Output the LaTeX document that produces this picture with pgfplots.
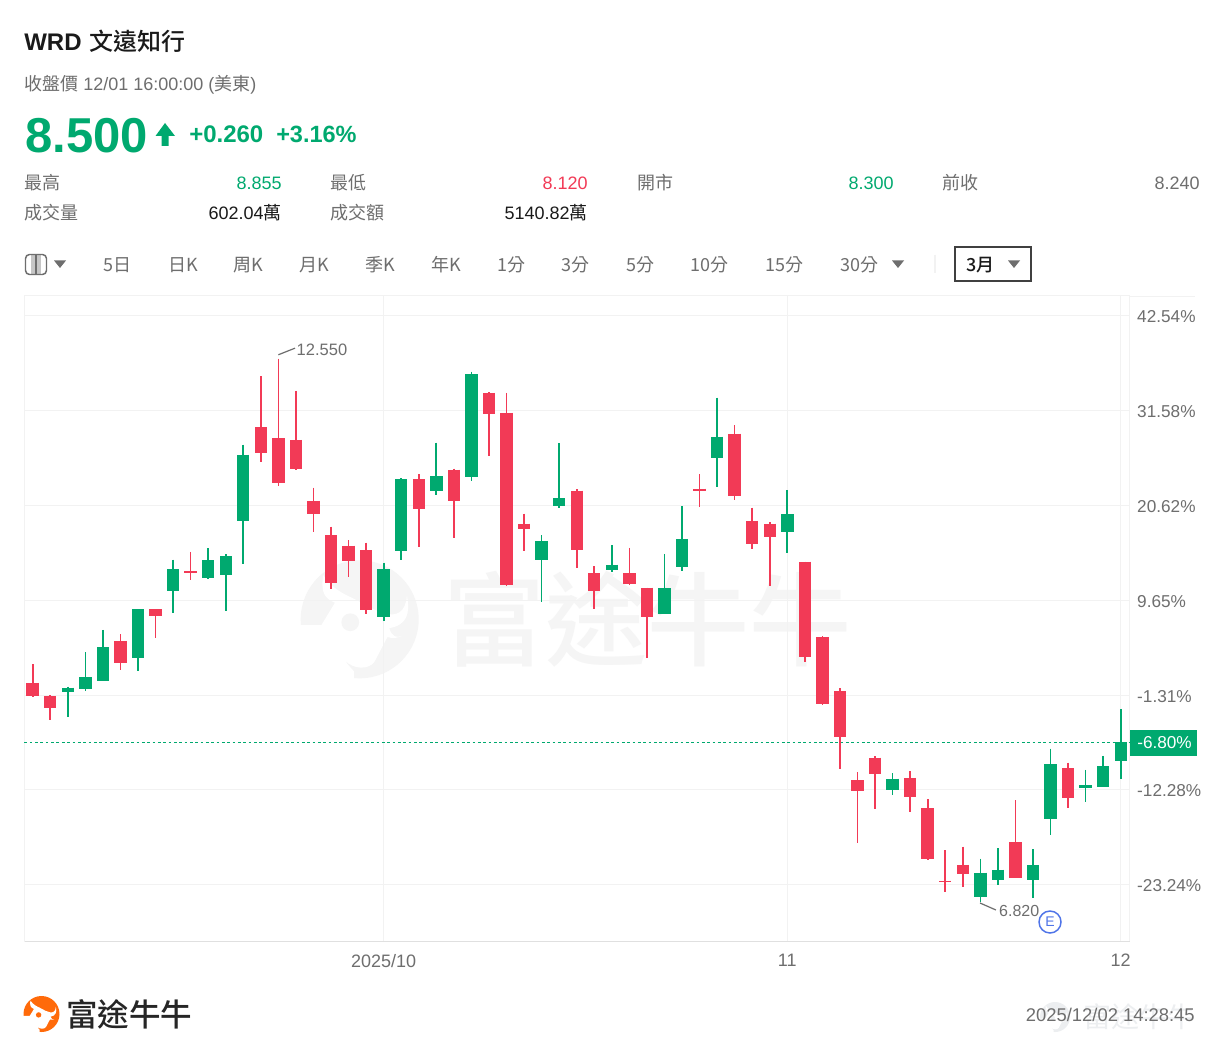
\documentclass[border=0pt]{standalone}
\usepackage{pgfplots}
\usepackage{pgfplotstable}
\usepackage{fontspec}
\pgfplotsset{compat=1.18}
\setmainfont{Liberation Sans}
\newfontfamily\cjk{Noto Sans CJK TC}
\newfontfamily\cjkm{Noto Sans CJK TC Medium}
\newcommand\fs[1]{\fontsize{\fpeval{#1*0.75}pt}{\fpeval{#1*0.9}pt}\selectfont}
\definecolor{upc}{HTML}{00A96F}
\definecolor{dnc}{HTML}{F23A56}
\definecolor{gridc}{HTML}{F2F2F2}
\definecolor{txtg}{HTML}{6E6E6E}
\definecolor{txtd}{HTML}{1A1A1A}
\definecolor{wm}{HTML}{F5F5F5}
\definecolor{wmb}{HTML}{ECEEF0}
\definecolor{logoc}{HTML}{FF6A0A}
\definecolor{ebl}{HTML}{4F74E8}
% x h t b l : high, body top, body bottom, low
\pgfplotstableread{
x h t b l
2 9.089 9.078 9.036 8.772
3 9.452 9.188 9.068 9.046
4 9.687 9.507 9.149 9.149
6 9.908 9.908 9.395 9.257
8 10.428 10.327 10.098 9.869
10 10.549 10.425 10.235 10.228
11 10.485 10.467 10.267 9.887
12 11.642 11.536 10.837 10.386
20 10.397 10.327 9.827 9.779
21 11.287 11.277 10.517 10.425
23 11.663 11.308 11.156 11.114
25 12.412 12.387 11.298 11.255
29 10.686 10.626 10.425 9.985
30 11.656 11.076 10.995 10.977
33 10.580 10.376 10.317 10.295
36 10.489 10.127 9.856 9.856
37 10.992 10.647 10.348 10.312
39 12.137 11.726 11.498 11.192
43 11.160 10.907 10.717 10.496
49 8.175 8.118 7.999 7.946
54 7.274 7.127 6.870 6.820
55 7.387 7.158 7.049 6.997
57 7.373 7.208 7.049 6.863
58 8.435 8.270 7.696 7.527
60 8.210 8.048 8.017 7.875
61 8.358 8.249 8.034 8.034
62 8.855 8.500 8.300 8.120
}\upbars
\pgfplotstableread{
x h t b l
0 9.328 9.128 8.987 8.977
1 9.001 8.987 8.867 8.737
5 9.641 9.571 9.339 9.265
7 9.908 9.908 9.838 9.606
9 10.510 10.306 10.288 10.217
13 12.366 11.825 11.557 11.456
14 12.550 11.709 11.234 11.209
15 12.208 11.691 11.385 11.375
16 11.188 11.048 10.907 10.717
17 10.776 10.686 10.186 10.116
18 10.636 10.576 10.418 10.246
19 10.608 10.528 9.898 9.859
22 11.329 11.277 10.966 10.566
24 11.388 11.378 11.048 10.654
26 12.197 12.187 11.965 11.525
27 12.187 11.976 10.165 10.154
28 10.914 10.808 10.755 10.523
31 11.171 11.156 10.528 10.341
32 10.359 10.285 10.098 9.905
34 10.552 10.285 10.175 10.165
35 10.133 10.133 9.827 9.395
38 11.332 11.177 11.156 10.988
40 11.846 11.757 11.100 11.055
41 10.977 10.837 10.597 10.541
42 10.823 10.808 10.668 10.154
44 10.407 10.407 9.402 9.352
45 9.620 9.610 8.906 8.899
46 9.072 9.040 8.558 8.224
47 8.186 8.101 7.988 7.437
48 8.354 8.340 8.168 7.795
50 8.196 8.126 7.928 7.767
51 7.901 7.806 7.268 7.260
52 7.366 7.042 7.025 6.926
53 7.401 7.208 7.116 6.979
56 7.893 7.447 7.067 7.067
59 8.287 8.228 7.918 7.812
}\downbars
\newcommand\logo[4]{% cx cy R colour
 \begin{scope}[shift={(#1,#2)},x=#3*0.75pt,y=-#3*0.75pt]
 \fill[#4] (0,0) circle (1);
 \fill[white] (-1.05,0.1) -- (-0.65,0.1) -- (-0.42,-0.28)
   .. controls (-0.6,-0.36) and (-0.66,-0.45) .. (-0.62,-0.75)
   .. controls (-0.45,-0.5) and (-0.25,-0.42) .. (-0.1,-0.35)
   .. controls (0.15,-0.22) and (0.3,-0.12) .. (0.45,-0.1)
   .. controls (0.6,-0.05) and (0.78,-0.1) .. (0.8,-0.4)
   .. controls (0.86,-0.1) and (0.8,0.1) .. (0.5,0.15)
   .. controls (0.55,0.3) and (0.62,0.32) .. (0.72,0.28)
   .. controls (0.55,0.35) and (0.5,0.3) .. (0.47,0.3)
   -- (0.25,0.72) .. controls (0.15,0.86) and (-0.1,0.85) .. (-0.25,0.7)
   .. controls (-0.2,0.78) and (-0.12,0.85) .. (-0.1,0.88)
   -- (-0.1,1.05) -- (-1.05,1.05) -- cycle;
 \fill[#4] (-0.16,0.05) circle (0.15);
 \end{scope}}
\newcommand\tb[3]{\node[anchor=base west,inner sep=0pt,text=#3] at (#1,271.5) {\fs{18}\cjk #2};}
\newcommand\tri[3]{\fill[#3] (#1-6,#2-3.5) -- (#1+6,#2-3.5) -- (#1,#2+4) -- cycle;}
\begin{document}
\begin{tikzpicture}
\begin{scope}[x=0.75pt,y=-0.75pt]
\fill[white] (0,0) rectangle (1220,1055);
% watermark
\logo{359.7}{619.3}{59}{wm}
\node[anchor=west,inner sep=0pt,text=wm] at (443,619) {\fs{102}\cjkm 富途牛牛};
% header
\node[anchor=base west,inner sep=0pt,text=txtd] at (24,51) {\fs{24}\bfseries WRD};
\node[anchor=base west,inner sep=0pt,text=txtd] at (89,51) {\fs{24}\cjkm 文遠知行};
\node[anchor=base west,inner sep=0pt,text=txtg] at (24,91) {\fs{18}{\cjk 收盤價} 12/01 16:00:00 ({\cjk 美東})};
\node[anchor=base west,inner sep=0pt,text=upc] at (25,152.5) {\fs{49}\bfseries 8.500};
\fill[upc] (165,123) -- (175,136) -- (168.5,136) -- (168.5,146) -- (161.5,146) -- (161.5,136) -- (155.5,136) -- cycle;
\node[anchor=base west,inner sep=0pt,text=upc] at (189,142.5) {\fs{24}\bfseries +0.260};
\node[anchor=base west,inner sep=0pt,text=upc] at (276,142.5) {\fs{23.5}\bfseries +3.16\%};
\node[anchor=base west,inner sep=0pt,text=txtg] at (24,190) {\fs{18}\cjk 最高};
\node[anchor=base east,inner sep=0pt,text=upc] at (282,190) {\fs{18}8.855};
\node[anchor=base west,inner sep=0pt,text=txtg] at (330,190) {\fs{18}\cjk 最低};
\node[anchor=base east,inner sep=0pt,text=dnc] at (588,190) {\fs{18}8.120};
\node[anchor=base west,inner sep=0pt,text=txtg] at (637,190) {\fs{18}\cjk 開市};
\node[anchor=base east,inner sep=0pt,text=upc] at (894,190) {\fs{18}8.300};
\node[anchor=base west,inner sep=0pt,text=txtg] at (942,190) {\fs{18}\cjk 前收};
\node[anchor=base east,inner sep=0pt,text=txtg] at (1200,190) {\fs{18}8.240};
\node[anchor=base west,inner sep=0pt,text=txtg] at (24,220) {\fs{18}\cjk 成交量};
\node[anchor=base east,inner sep=0pt,text=txtd] at (282,220) {\fs{18}602.04{\cjk 萬}};
\node[anchor=base west,inner sep=0pt,text=txtg] at (330,220) {\fs{18}\cjk 成交額};
\node[anchor=base east,inner sep=0pt,text=txtd] at (588,220) {\fs{18}5140.82{\cjk 萬}};
% toolbar
\fill[gray!45] (31,255) rectangle (41,274);
\fill[txtg] (35,255) rectangle (37,274);
\draw[txtg,line width=1.1pt,rounded corners=3pt] (25.5,254.5) rectangle (46.5,274.5);
\tri{60}{264}{txtg}
\tb{103}{5日}{txtg}\tb{168}{日K}{txtg}\tb{233}{周K}{txtg}\tb{299}{月K}{txtg}\tb{365}{季K}{txtg}\tb{431}{年K}{txtg}
\tb{497}{1分}{txtg}\tb{561}{3分}{txtg}\tb{626}{5分}{txtg}\tb{690}{10分}{txtg}\tb{765}{15分}{txtg}\tb{840}{30分}{txtg}
\tri{898}{264}{txtg}
\draw[gridc,line width=0.9pt] (935,255) -- (935,273);
\draw[black!75,line width=1pt] (955,247) rectangle (1031,281);
\node[anchor=base west,inner sep=0pt,text=txtd] at (966,271.5) {\fs{18}\cjkm 3月};
\tri{1014}{264}{txtg}
\draw[gridc,line width=0.75pt] (1129.5,296.5) -- (1195,296.5);
% footer
\logo{41.5}{1014}{18}{logoc}
\node[anchor=west,inner sep=0pt,text=black!85] at (66,1014) {\fs{31.5}\cjkm 富途牛牛};
\logo{1055}{1017}{15}{wmb}
\node[anchor=west,inner sep=0pt,text=wmb] at (1083,1017) {\fs{28}\cjk 富途牛牛};
\node[anchor=base east,inner sep=0pt,text=txtg] at (1195,1021) {\fs{18.4}2025/12/02 14:28:45};
\end{scope}
\begin{axis}[
 at={(18.375pt,-705.75pt)},anchor=south west,
 scale only axis,width=828.75pt,height=483.75pt,
 xmin=-0.467,xmax=62.5,ymin=6.406,ymax=13.21,
 axis line style={draw=gridc,line width=0.75pt},
 yticklabel pos=right,
 grid=major,major grid style={draw=gridc,line width=0.75pt},
 major tick length=0pt,
 xtick={20,43,62},xticklabels={2025/10,11,12},
 ytick={7,8,9,10,11,12,13},
 yticklabels={-23.24\%,-12.28\%,-1.31\%,9.65\%,20.62\%,31.58\%,42.54\%},
 yticklabel style={anchor=west,xshift=2.25pt,yshift=-0.75pt,text=txtg,font=\fs{17.2}},
 xticklabel style={text=txtg,font=\fs{18},yshift=-6.5pt},
 every axis plot/.append style={forget plot},
 clip=false,
]
\addplot[draw=upc,line width=0.9pt,dash pattern=on 2pt off 2pt] coordinates {(-0.467,8.5) (62.5,8.5)};
\addplot[draw=none,mark=none,error bars/.cd,y dir=minus,y explicit,error mark=none,
  error bar style={line width=1.25pt,color=dnc}]
  table[x=x,y=h,y error minus expr=\thisrow{h}-\thisrow{l}] {\downbars};
\addplot[draw=none,mark=none,error bars/.cd,y dir=minus,y explicit,error mark=none,
  error bar style={line width=1.25pt,color=upc}]
  table[x=x,y=h,y error minus expr=\thisrow{h}-\thisrow{l}] {\upbars};
\addplot[draw=none,mark=none,error bars/.cd,y dir=minus,y explicit,error mark=none,
  error bar style={line width=9.3pt,color=dnc}]
  table[x=x,y=t,y error minus expr=\thisrow{t}-\thisrow{b}] {\downbars};
\addplot[draw=none,mark=none,error bars/.cd,y dir=minus,y explicit,error mark=none,
  error bar style={line width=9.3pt,color=upc}]
  table[x=x,y=t,y error minus expr=\thisrow{t}-\thisrow{b}] {\upbars};
\draw[txtg,line width=0.9pt] (axis cs:14,12.59) -- (axis cs:14.95,12.66);
\node[anchor=west,inner sep=0pt,text=txtg,font=\fs{16.5}] at (axis cs:15.03,12.64) {12.550};
\draw[txtg,line width=0.9pt] (axis cs:53.98,6.807) -- (axis cs:54.89,6.733);
\node[anchor=west,inner sep=0pt,text=txtg,font=\fs{16}] at (axis cs:55.06,6.722) {6.820};
\end{axis}
\begin{scope}[x=0.75pt,y=-0.75pt]
\draw[black!12,line width=0.75pt] (24.5,941) -- (1129.5,941);
\fill[upc] (1129.5,729.5) rectangle (1197,756);
\node[anchor=west,inner sep=0pt,text=white] at (1137,743) {\fs{17.2}-6.80\%};
\draw[fill=white,draw=ebl,line width=1.1pt] (1050,922) circle (11);
\node[text=ebl,inner sep=0pt] at (1050,922) {\fs{14}E};
\end{scope}
\end{tikzpicture}
\end{document}
